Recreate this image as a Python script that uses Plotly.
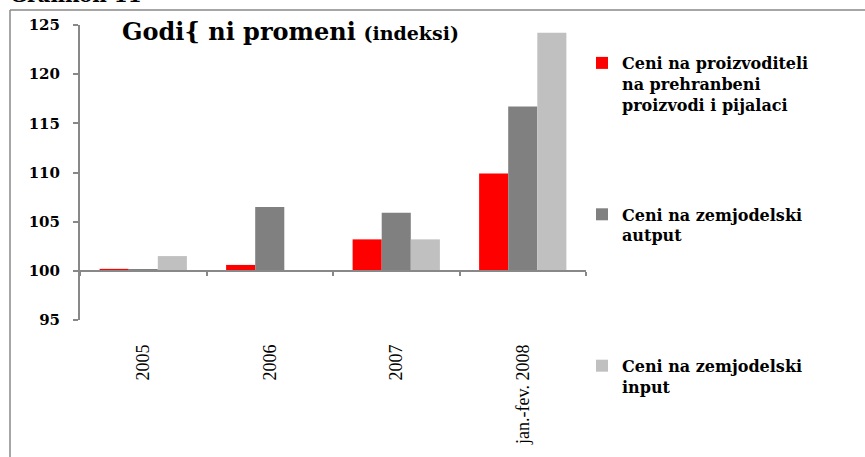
import plotly.graph_objects as go

categories = ["2005", "2006", "2007", "jan.-fev. 2008"]
producer_food = [100.2, 100.6, 103.2, 109.9]
agri_output = [100.1, 106.5, 105.9, 116.7]
agri_input = [101.5, 100.0, 103.2, 124.2]
series_names = [
    "Ceni na proizvoditeli<br>na prehranbeni<br>proizvodi i pijalaci",
    "Ceni na zemjodelski<br>autput<br> ",
    "Ceni na zemjodelski<br>input<br> ",
]
series_colors = ["#FF0000", "#808080", "#C0C0C0"]
base_value = 100
y_ticks = [95, 100, 105, 110, 115, 120, 125]

W, H = 865, 457
L, R, T, B = 80, 279, 25, 137
pw, ph = W - L - R, H - T - B


def px(x):
    return (x - L) / pw


def py(y):
    return (H - B - y) / ph


fig = go.Figure()
for name, vals, col, g in zip(series_names, [producer_food, agri_output, agri_input], series_colors, ["a", "b", "c"]):
    fig.add_trace(go.Bar(
        x=categories, y=[v - base_value for v in vals], base=base_value,
        name=name, marker=dict(color=col, line=dict(width=0)),
        legendgroup=g,
    ))

# baseline axis at y=100
fig.add_trace(go.Scatter(x=categories, y=[base_value] * len(categories), xaxis="x2",
                         mode="none", showlegend=False, hoverinfo="skip"))

serif = "Liberation Serif"
fig.update_layout(
    width=W, height=H, autosize=False,
    margin=dict(l=L, r=R, t=T, b=B),
    paper_bgcolor="white", plot_bgcolor="white",
    barmode="group", bargap=0.31, bargroupgap=0,
    showlegend=True,
    legend=dict(x=px(582), y=py(46), xanchor="left", yanchor="top",
                font=dict(family="DejaVu Serif", size=16, color="black", weight="bold"),
                traceorder="grouped", tracegroupgap=86, valign="top",
                maxheight=450,
                bgcolor="rgba(0,0,0,0)"),
    xaxis=dict(type="category", range=[-0.5, 3.5], showline=False, ticks="",
               tickangle=-90, showgrid=False, zeroline=False,
               tickfont=dict(family=serif, size=18, color="black"),
               ticklabelstandoff=20),
    xaxis2=dict(type="category", overlaying="x", anchor="free", position=(base_value - 95) / 30,
                range=[-0.5, 3.5], showline=True, linecolor="#888888", linewidth=2,
                ticks="outside", tickson="boundaries", ticklen=4, tickcolor="#888888", tickwidth=1.5,
                showticklabels=False, showgrid=False, zeroline=False),
    yaxis=dict(range=[95, 125], tickvals=y_ticks, showline=True, linecolor="#888888", linewidth=2,
               ticks="outside", ticklen=5, tickcolor="#888888", tickwidth=1.5,
               showgrid=False, zeroline=False,
               tickfont=dict(family="DejaVu Serif", size=15, color="black", weight="bold"),
               ticklabelstandoff=10),
    annotations=[
        dict(x=px(120), y=py(31), xref="paper", yref="paper", xanchor="left", yanchor="middle",
             showarrow=False,
             text="<b>Godi{ ni promeni</b> <b><span style='font-size:19px'>(indeksi)</span></b>",
             font=dict(family="DejaVu Serif", size=24, color="black")),
        dict(x=px(8), y=py(8.5), xref="paper", yref="paper", xanchor="left", yanchor="bottom",
             showarrow=False, text="<b>Grafikon 11</b>",
             font=dict(family="DejaVu Serif", size=20, color="black")),
    ],
    shapes=[
        dict(type="line", xref="paper", yref="paper", x0=px(10), x1=px(866), y0=py(10), y1=py(10),
             line=dict(color="#888888", width=1.5)),
        dict(type="line", xref="paper", yref="paper", x0=px(10), x1=px(10), y0=py(10), y1=py(460),
             line=dict(color="#888888", width=1.5)),
    ],
)

fig.write_html("out.html", post_script="document.body.style.margin='0';",
               config={"displayModeBar": False})
